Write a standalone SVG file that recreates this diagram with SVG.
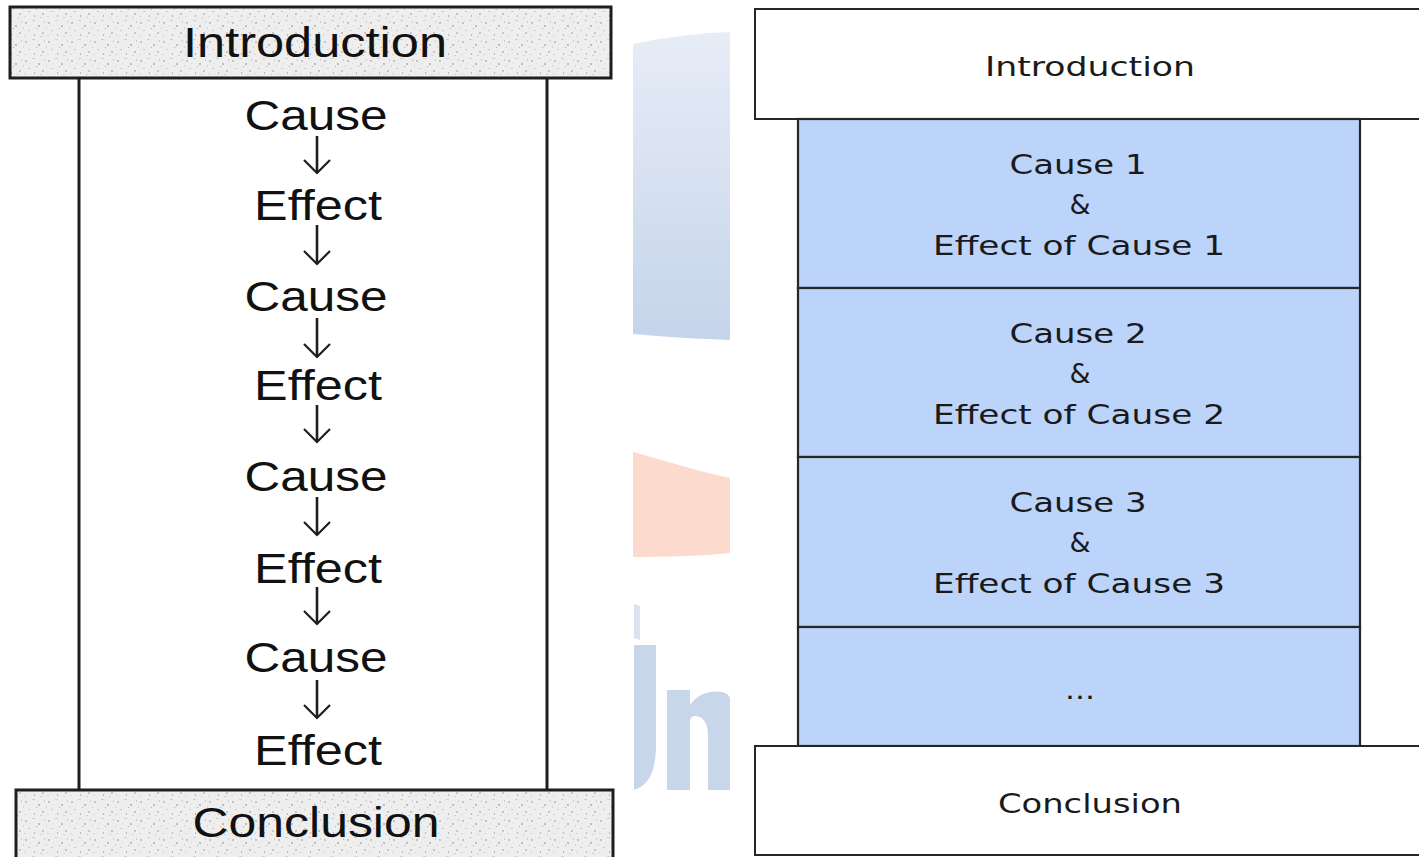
<svg xmlns="http://www.w3.org/2000/svg" width="1419" height="857" viewBox="0 0 1419 857">
<defs>
<pattern id="grain" width="23" height="19" patternUnits="userSpaceOnUse">
<rect width="23" height="19" fill="#eeeeee"/>
<rect x="2" y="3" width="2" height="2" fill="#c4c4c4"/>
<rect x="9" y="1" width="3" height="1" fill="#d0d0d0"/>
<rect x="15" y="6" width="2" height="2" fill="#bdbdbd"/>
<rect x="5" y="11" width="2" height="1" fill="#cacaca"/>
<rect x="19" y="13" width="2" height="2" fill="#c6c6c6"/>
<rect x="11" y="15" width="1" height="2" fill="#b8b8b8"/>
<rect x="1" y="16" width="2" height="1" fill="#d6d6d6"/>
<rect x="13" y="9" width="1" height="1" fill="#b0b0b0"/>
<rect x="21" y="2" width="1" height="2" fill="#cccccc"/>
<rect x="7" y="6" width="1" height="1" fill="#d8d8d8"/>
<rect x="17" y="17" width="2" height="1" fill="#d2d2d2"/>
<rect x="0" y="8" width="1" height="2" fill="#d4d4d4"/>
</pattern>
<linearGradient id="wmBlue" x1="0" y1="0" x2="0" y2="1">
<stop offset="0" stop-color="#e7edf7"/>
<stop offset="1" stop-color="#c5d4ea"/>
</linearGradient>
<marker id="vhead" markerUnits="userSpaceOnUse" markerWidth="30" markerHeight="30" viewBox="-15 -15 30 30" refX="0" refY="0" orient="auto" overflow="visible">
<path d="M-13,-13 L0,0 L-13,13" fill="none" stroke="#1e1e1e" stroke-width="2.2"/>
</marker>
</defs>
<style>
.lbox{fill:url(#grain);stroke:#1e1e1e;stroke-width:3}
.ltxt{font-family:"Liberation Sans",Arial,sans-serif;font-size:42px;fill:#111;text-anchor:middle}
.frame{stroke:#1e1e1e;stroke-width:3;fill:none}
.arrow{stroke:#1e1e1e;stroke-width:2.6;fill:none}
.rbox{fill:#ffffff;stroke:#262626;stroke-width:2}
.bbox{fill:#bcd3fa;stroke:#262626;stroke-width:2.2}
.rtxt{font-family:"DejaVu Sans",Verdana,sans-serif;font-size:27px;fill:#1a1a1a;text-anchor:middle}
.wm{fill:#c8d6ea}
</style>
<rect width="1419" height="857" fill="#ffffff"/>

<g id="watermark">
<path d="M633,44 C665,37 700,33 730,32 L730,340 C700,339 665,337 633,334 Z" fill="url(#wmBlue)"/>
<path d="M633,452 C670,462 700,472 730,478 L730,553 C700,556 665,557 633,557 Z" fill="#fcdacd"/>
<path d="M634,604 L640,606 L640,640 L634,638 Z" fill="#dbe3ee"/>
<path class="wm" d="M634,645 L656,645 L656,745 C656,772 648,786 634,790 Z"/>
<path class="wm" d="M667,690 L690,690 L690,705 C698,693 712,690 722,692 C728,694 730,696 730,700 L730,790 L708,790 L708,735 C708,722 702,716 695,716 C692,716 690,718 690,722 L690,790 L667,790 Z"/>
</g>

<g id="left-body">
<line class="frame" x1="79" y1="78" x2="79" y2="790"/>
<line class="frame" x1="547" y1="78" x2="547" y2="790"/>
</g>
<g id="left-introduction">
<rect class="lbox" x="10" y="7" width="601" height="71"/>
<text class="ltxt" x="315" y="57" textLength="264" lengthAdjust="spacingAndGlyphs">Introduction</text>
</g>
<g id="left-cause-1"><text class="ltxt" x="316" y="130" textLength="143" lengthAdjust="spacingAndGlyphs">Cause</text></g>
<g id="left-effect-1"><text class="ltxt" x="318" y="220" textLength="128" lengthAdjust="spacingAndGlyphs">Effect</text></g>
<g id="left-cause-2"><text class="ltxt" x="316" y="311" textLength="143" lengthAdjust="spacingAndGlyphs">Cause</text></g>
<g id="left-effect-2"><text class="ltxt" x="318" y="400" textLength="128" lengthAdjust="spacingAndGlyphs">Effect</text></g>
<g id="left-cause-3"><text class="ltxt" x="316" y="491" textLength="143" lengthAdjust="spacingAndGlyphs">Cause</text></g>
<g id="left-effect-3"><text class="ltxt" x="318" y="583" textLength="128" lengthAdjust="spacingAndGlyphs">Effect</text></g>
<g id="left-cause-4"><text class="ltxt" x="316" y="672" textLength="143" lengthAdjust="spacingAndGlyphs">Cause</text></g>
<g id="left-effect-4"><text class="ltxt" x="318" y="765" textLength="128" lengthAdjust="spacingAndGlyphs">Effect</text></g>
<g id="left-conclusion">
<rect class="lbox" x="16" y="790" width="597" height="72"/>
<text class="ltxt" x="316" y="837" textLength="247" lengthAdjust="spacingAndGlyphs">Conclusion</text>
</g>

<g id="connectors">
<line class="arrow" x1="317" y1="136" x2="317" y2="173" marker-end="url(#vhead)"/>
<line class="arrow" x1="317" y1="225" x2="317" y2="264" marker-end="url(#vhead)"/>
<line class="arrow" x1="317" y1="318" x2="317" y2="357" marker-end="url(#vhead)"/>
<line class="arrow" x1="317" y1="405" x2="317" y2="442" marker-end="url(#vhead)"/>
<line class="arrow" x1="317" y1="497" x2="317" y2="535" marker-end="url(#vhead)"/>
<line class="arrow" x1="317" y1="587" x2="317" y2="624" marker-end="url(#vhead)"/>
<line class="arrow" x1="317" y1="680" x2="317" y2="718" marker-end="url(#vhead)"/>
</g>

<g id="right-introduction">
<rect class="rbox" x="755" y="9" width="700" height="110"/>
<text class="rtxt" x="1090" y="76" textLength="210" lengthAdjust="spacingAndGlyphs">Introduction</text>
</g>
<g id="right-cause-1">
<rect class="bbox" x="798" y="119" width="562" height="169"/>
<text class="rtxt" x="1078" y="174" textLength="137" lengthAdjust="spacingAndGlyphs">Cause 1</text>
<text class="rtxt" x="1080" y="214">&amp;</text>
<text class="rtxt" x="1079" y="255" textLength="292" lengthAdjust="spacingAndGlyphs">Effect of Cause 1</text>
</g>
<g id="right-cause-2">
<rect class="bbox" x="798" y="288" width="562" height="169"/>
<text class="rtxt" x="1078" y="343" textLength="137" lengthAdjust="spacingAndGlyphs">Cause 2</text>
<text class="rtxt" x="1080" y="383">&amp;</text>
<text class="rtxt" x="1079" y="424" textLength="292" lengthAdjust="spacingAndGlyphs">Effect of Cause 2</text>
</g>
<g id="right-cause-3">
<rect class="bbox" x="798" y="457" width="562" height="170"/>
<text class="rtxt" x="1078" y="512" textLength="137" lengthAdjust="spacingAndGlyphs">Cause 3</text>
<text class="rtxt" x="1080" y="552">&amp;</text>
<text class="rtxt" x="1079" y="593" textLength="292" lengthAdjust="spacingAndGlyphs">Effect of Cause 3</text>
</g>
<g id="right-more">
<rect class="bbox" x="798" y="627" width="562" height="119"/>
<text class="rtxt" x="1080" y="699" textLength="30" lengthAdjust="spacingAndGlyphs">...</text>
</g>
<g id="right-conclusion">
<rect class="rbox" x="755" y="746" width="700" height="109"/>
<text class="rtxt" x="1090" y="813" textLength="184" lengthAdjust="spacingAndGlyphs">Conclusion</text>
</g>
</svg>
